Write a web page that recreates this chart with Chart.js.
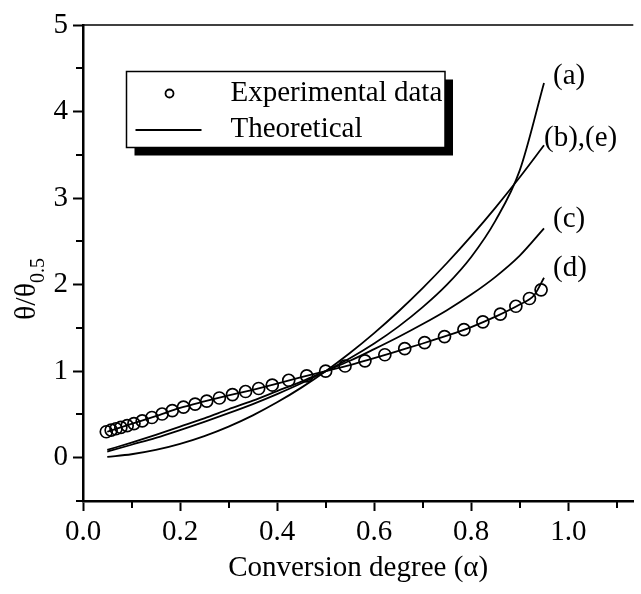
<!DOCTYPE html>
<html>
<head>
<meta charset="utf-8">
<script src="https://cdn.jsdelivr.net/npm/chart.js@4.4.1/dist/chart.umd.min.js"></script>
<style>
  html, body { margin: 0; padding: 0; background: #fff; }
  #wrap { width: 641px; height: 594px; position: relative; }
</style>
</head>
<body>
<div id="wrap"><canvas id="chart"></canvas></div>
<script>
// Conversion degree grid used by the model curves
const alphaGrid = [0.05, 0.10, 0.15, 0.20, 0.25, 0.30, 0.35, 0.40, 0.45, 0.50,
                   0.55, 0.60, 0.65, 0.70, 0.75, 0.80, 0.85, 0.90, 0.95];

// Theoretical curves (a), (b)/(e), (c)
const curveA = [0.07, 0.15, 0.23, 0.32, 0.415, 0.515, 0.62, 0.735, 0.86, 1.00,
                1.15, 1.32, 1.515, 1.74, 2.00, 2.32, 2.74, 3.32, 4.33];
const curveB = [0.01, 0.04, 0.09, 0.16, 0.25, 0.36, 0.49, 0.64, 0.81, 1.00,
                1.21, 1.44, 1.69, 1.96, 2.25, 2.56, 2.89, 3.24, 3.61];
const curveC = [0.09, 0.175, 0.265, 0.36, 0.455, 0.56, 0.66, 0.77, 0.88, 1.00,
                1.12, 1.255, 1.395, 1.545, 1.705, 1.885, 2.09, 2.335, 2.65];

// Curve (d) runs through the measured points
const curveDAlpha = [0.05, 0.10, 0.15, 0.20, 0.25, 0.30, 0.35, 0.40, 0.45, 0.50,
                     0.55, 0.60, 0.65, 0.70, 0.75, 0.80, 0.85, 0.90, 0.93, 0.95];
const curveD = [0.30, 0.39, 0.48, 0.575, 0.65, 0.72, 0.785, 0.855, 0.93, 1.00,
                1.07, 1.15, 1.235, 1.32, 1.41, 1.51, 1.63, 1.77, 1.88, 2.08];

// Experimental data
const expAlpha = [0.048, 0.058, 0.068, 0.078, 0.091, 0.105, 0.122, 0.142, 0.163, 0.184,
                  0.207, 0.231, 0.255, 0.281, 0.308, 0.335, 0.362, 0.390, 0.424, 0.461,
                  0.500, 0.540, 0.581, 0.622, 0.663, 0.704, 0.745, 0.785, 0.824, 0.860,
                  0.892, 0.920, 0.944];
const expTheta = [0.30, 0.32, 0.335, 0.35, 0.37, 0.395, 0.425, 0.465, 0.505, 0.545,
                  0.585, 0.62, 0.655, 0.69, 0.73, 0.765, 0.80, 0.84, 0.895, 0.945,
                  1.00, 1.06, 1.12, 1.19, 1.26, 1.33, 1.40, 1.48, 1.57, 1.66,
                  1.75, 1.84, 1.94];

const curveLabels = ['(a)', '(b),(e)', '(c)', '(d)'];
const legendLabels = ['Experimental data', 'Theoretical'];

const SERIF = '"Liberation Serif", "Times New Roman", serif';

function pts(xs, ys) {
  return xs.map((v, i) => ({ x: v, y: ys[i] }));
}

function curve(xs, ys) {
  return {
    type: 'scatter',
    data: pts(xs, ys),
    showLine: true,
    borderColor: '#000',
    borderWidth: 1.8,
    pointRadius: 0,
    cubicInterpolationMode: 'monotone',
    fill: false
  };
}

const isMajorX = v => Math.round(v * 10) % 2 === 0;
const isMajorY = v => Math.abs(v - Math.round(v)) < 1e-6;

// frame line, minor ticks, legend box, axis title and curve labels
const decorPlugin = {
  id: 'decor',
  afterDraw(chart) {
    const { ctx, chartArea: a, scales: { x, y } } = chart;
    ctx.save();
    ctx.strokeStyle = '#000';
    ctx.fillStyle = '#000';

    // top frame line
    ctx.lineWidth = 1.5;
    ctx.beginPath();
    ctx.moveTo(a.left, a.top);
    ctx.lineTo(a.right, a.top);
    ctx.stroke();

    // minor ticks
    ctx.lineWidth = 2;
    ctx.beginPath();
    x.ticks.forEach(t => {
      if (!isMajorX(t.value)) {
        const px = Math.round(x.getPixelForValue(t.value));
        ctx.moveTo(px, a.bottom);
        ctx.lineTo(px, a.bottom + 7);
      }
    });
    y.ticks.forEach(t => {
      if (!isMajorY(t.value)) {
        const py = Math.round(y.getPixelForValue(t.value));
        ctx.moveTo(a.left, py);
        ctx.lineTo(a.left - 7, py);
      }
    });
    ctx.stroke();

    // legend with drop shadow
    const lx = a.left + 43.5, ly = a.top + 46.5, lw = 318.5, lh = 76;
    ctx.fillRect(lx + 8, ly + 8, lw, lh);
    ctx.fillStyle = '#fff';
    ctx.fillRect(lx, ly, lw, lh);
    ctx.lineWidth = 1.5;
    ctx.strokeRect(lx, ly, lw, lh);
    ctx.fillStyle = '#000';
    ctx.lineWidth = 1.8;
    ctx.beginPath();
    ctx.arc(lx + 43, ly + 22, 4, 0, Math.PI * 2);
    ctx.stroke();
    ctx.beginPath();
    ctx.moveTo(lx + 9, ly + 58.5);
    ctx.lineTo(lx + 75, ly + 58.5);
    ctx.stroke();
    ctx.font = '29px ' + SERIF;
    ctx.textBaseline = 'middle';
    ctx.textAlign = 'left';
    ctx.fillText(legendLabels[0], lx + 104, ly + 22);
    ctx.fillText(legendLabels[1], lx + 104, ly + 58);

    // curve labels beside the curve ends
    const ends = [
      [alphaGrid.at(-1), curveA.at(-1), 9, -7],
      [alphaGrid.at(-1), curveB.at(-1), 0, -7],
      [alphaGrid.at(-1), curveC.at(-1), 9, -9],
      [curveDAlpha.at(-1), curveD.at(-1), 9, -9]
    ];
    ends.forEach(([ax, ay, dx, dy], i) => {
      const px = x.getPixelForValue(ax) + dx;
      const py = y.getPixelForValue(ay) + dy;
      ctx.fillText(curveLabels[i], px, py);
    });

    // y axis title with subscript
    ctx.translate(35, 320);
    ctx.rotate(-Math.PI / 2);
    ctx.textBaseline = 'alphabetic';
    ctx.font = '30px ' + SERIF;
    ctx.fillText('θ/θ', 0, 0);
    const w = ctx.measureText('θ/θ').width;
    ctx.font = '20px ' + SERIF;
    ctx.fillText('0.5', w, 9);

    ctx.restore();
  }
};

new Chart(document.getElementById('chart'), {
  type: 'scatter',
  data: {
    datasets: [
      {
        data: pts(expAlpha, expTheta),
        showLine: false,
        pointStyle: 'circle',
        pointRadius: 6,
        pointBorderWidth: 1.7,
        pointBorderColor: '#000',
        pointBackgroundColor: 'rgba(0,0,0,0)'
      },
      curve(alphaGrid, curveA),
      curve(alphaGrid, curveB),
      curve(alphaGrid, curveC),
      curve(curveDAlpha, curveD)
    ]
  },
  options: {
    responsive: true,
    maintainAspectRatio: false,
    animation: false,
    layout: { padding: { top: 25, right: 0, left: 0, bottom: 0 } },
    plugins: {
      legend: { display: false },
      tooltip: { enabled: false }
    },
    scales: {
      x: {
        type: 'linear',
        min: 0,
        max: 1.134,
        afterFit: s => { s.height = 93; },
        border: { display: true, color: '#000', width: 2.5 },
        grid: {
          drawOnChartArea: false,
          drawTicks: true,
          tickLength: 10,
          tickWidth: 2,
          tickColor: c => (c.tick && isMajorX(c.tick.value)) ? '#000' : 'rgba(0,0,0,0)'
        },
        ticks: {
          stepSize: 0.1,
          includeBounds: false,
          autoSkip: false,
          maxRotation: 0,
          color: '#000',
          padding: 4,
          font: { family: SERIF, size: 29 },
          callback: v => isMajorX(v) ? v.toFixed(1) : ''
        },
        title: {
          display: true,
          text: 'Conversion degree (α)',
          color: '#000',
          font: { family: SERIF, size: 29 },
          padding: { top: 0, bottom: 8 }
        }
      },
      y: {
        min: -0.5,
        max: 5,
        afterFit: s => { s.width = 83; },
        border: { display: true, color: '#000', width: 2.5 },
        grid: {
          drawOnChartArea: false,
          drawTicks: true,
          tickLength: 10,
          tickWidth: 2,
          tickColor: c => (c.tick && isMajorY(c.tick.value)) ? '#000' : 'rgba(0,0,0,0)'
        },
        ticks: {
          stepSize: 0.5,
          autoSkip: false,
          color: '#000',
          padding: 5,
          font: { family: SERIF, size: 29 },
          callback: v => isMajorY(v) ? String(Math.round(v)) : ''
        }
      }
    }
  },
  plugins: [decorPlugin]
});
</script>
</body>
</html>
